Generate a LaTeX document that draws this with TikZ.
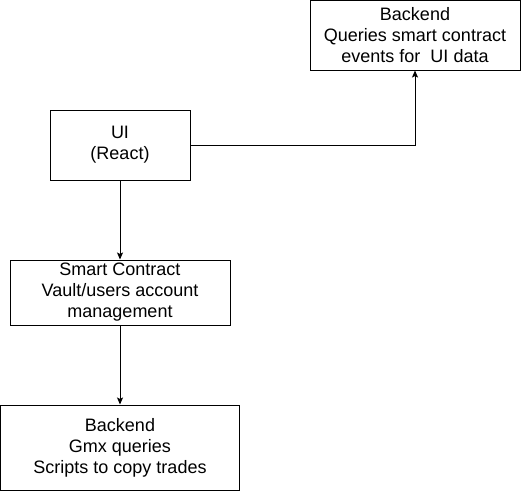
\documentclass[tikz,border=0pt]{standalone}
\usepackage{fontspec}
\setmainfont{Liberation Sans}
\usetikzlibrary{positioning,arrows.meta}

\begin{document}
\begin{tikzpicture}[x=1pt,y=1pt,font=\fontsize{18}{21}\selectfont]
    \tikzstyle{block}=[draw, line width=1pt, align=center, inner sep=0pt, on grid]
    \useasboundingbox (0,0) rectangle (521,-491);
    \node[block,minimum width=140pt,minimum height=70pt] (ui) at (120,-145) {UI\\(React)};
    \node[block,minimum width=210pt,minimum height=70pt,above right=110pt and 295pt of ui] (events) {Backend\\Queries smart contract\\events for\ \ UI data};
    \node[block,minimum width=220pt,minimum height=65pt,below=147.5pt of ui] (contract) {Smart Contract\\Vault/users account\\management};
    \node[block,minimum width=239pt,minimum height=85pt,below=155pt of contract] (gmx) {Backend\\Gmx queries\\Scripts to copy trades};

    \draw[line width=1pt,-{Stealth[length=7pt,width=6pt,inset=1.5pt]}] (ui) -| (events);
    \draw[line width=1pt,-{Stealth[length=7pt,width=6pt,inset=1.5pt]}] (ui) -- (contract);
    \draw[line width=1pt,-{Stealth[length=7pt,width=6pt,inset=1.5pt]}] (contract) -- (gmx);
\end{tikzpicture}
\end{document}
